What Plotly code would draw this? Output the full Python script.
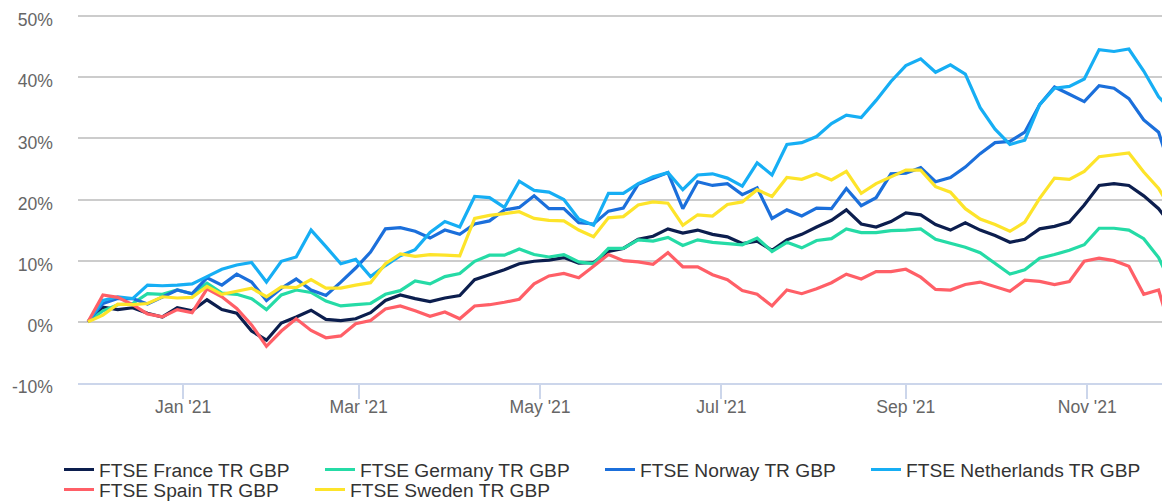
import pandas as pd
import plotly.graph_objects as go

# x positions: every 5 days from 30 Nov 2020, plus last observation
dates = list(pd.date_range("2020-11-30", periods=73, freq="5D").strftime("%Y-%m-%d")) + ["2021-11-28"]

france = [0, 2.4, 2.0, 2.3, 1.4, 0.8, 2.3, 1.8, 3.6, 2.0, 1.4, -1.5, -3.0, -0.2, 0.8, 1.9, 0.4, 0.2, 0.5, 1.5,
          3.5, 4.4, 3.8, 3.3, 3.9, 4.3, 6.9, 7.7, 8.5, 9.5, 9.9, 10.1, 10.5, 9.6, 9.7, 11.5, 12.0, 13.5, 14.0, 15.2,
          14.5, 15.0, 14.3, 13.9, 12.8, 13.2, 11.7, 13.4, 14.3, 15.5, 16.6, 18.3, 16.0, 15.5, 16.4, 17.8, 17.5,
          15.9, 15.0, 16.2, 15.0, 14.1, 13.0, 13.5, 15.2, 15.6, 16.3, 19.1, 22.3, 22.6, 22.3, 20.6, 18.5,
          16.6]
germany = [0, 1.8, 2.8, 3.0, 4.6, 4.5, 5.2, 4.6, 6.3, 4.7, 4.5, 3.8, 2.0, 4.4, 5.2, 4.8, 3.4, 2.6, 2.8, 3.0,
           4.5, 5.1, 6.7, 6.2, 7.4, 7.9, 9.9, 10.9, 10.9, 11.9, 11.0, 10.6, 11.0, 9.8, 9.5, 12.0, 12.0, 13.4, 13.2, 13.8,
           12.5, 13.4, 13.0, 12.8, 12.6, 13.7, 11.5, 13.0, 12.1, 13.3, 13.6, 15.2, 14.6, 14.6, 14.9, 15.0, 15.2,
           13.5, 12.8, 12.2, 11.3, 9.5, 7.8, 8.5, 10.4, 11.0, 11.7, 12.6, 15.3, 15.3, 15.0, 13.6, 10.5,
           7.4]
norway = [0, 3.0, 3.8, 3.8, 2.9, 4.0, 5.2, 4.6, 7.2, 6.0, 7.8, 6.5, 3.5, 5.5, 7.0, 5.2, 4.3, 6.5, 8.8, 11.4,
          15.2, 15.4, 14.8, 13.7, 15.0, 14.3, 16.0, 16.5, 18.3, 18.7, 20.6, 18.5, 18.5, 16.2, 16.0, 18.1, 18.6, 22.5, 23.5, 24.4,
          18.5, 22.9, 22.3, 22.6, 20.8, 21.9, 16.9, 18.3, 17.3, 18.6, 18.5, 21.8, 19.0, 20.3, 24.2, 24.3, 25.2,
          22.9, 23.6, 25.3, 27.5, 29.3, 29.5, 31.0, 35.5, 38.4, 37.2, 36.0, 38.6, 38.2, 36.5, 33.0, 31.0,
          26.5]
netherlands = [0, 3.5, 4.1, 3.8, 6.0, 5.9, 6.0, 6.2, 7.4, 8.6, 9.3, 9.7, 6.5, 9.9, 10.6, 15.0, 12.3, 9.5, 10.2, 7.4,
               9.2, 10.8, 11.8, 14.6, 16.4, 15.5, 20.5, 20.3, 18.7, 23.0, 21.5, 21.2, 20.0, 16.8, 15.8, 21.0, 21.0, 22.6, 23.7, 24.4,
               21.6, 24.0, 24.2, 23.5, 22.2, 26.0, 24.0, 29.0, 29.3, 30.3, 32.4, 33.8, 33.4, 36.2, 39.3, 41.9, 43.0,
               40.8, 42.0, 40.5, 35.0, 31.5, 29.0, 29.7, 35.5, 38.2, 38.5, 39.7, 44.5, 44.2, 44.6, 41.0, 36.8,
               35.2]
spain = [0, 4.4, 4.0, 2.8, 1.3, 0.8, 2.0, 1.5, 5.4, 4.1, 2.2, -0.5, -4.0, -1.5, 0.5, -1.4, -2.6, -2.3, -0.3, 0.2,
         2.1, 2.6, 1.8, 0.9, 1.6, 0.5, 2.6, 2.8, 3.2, 3.7, 6.2, 7.5, 7.9, 7.2, 9.1, 11.0, 10.0, 9.8, 9.4, 11.3,
         9.0, 9.0, 7.7, 6.9, 5.1, 4.5, 2.6, 5.2, 4.6, 5.4, 6.4, 7.8, 7.0, 8.2, 8.2, 8.6, 7.3,
         5.3, 5.2, 6.1, 6.5, 5.8, 5.0, 6.8, 6.6, 6.1, 6.6, 9.9, 10.4, 10.0, 9.1, 4.5, 5.2,
         0.3]
sweden = [0, 1.1, 2.9, 2.8, 3.0, 4.1, 3.9, 4.0, 5.8, 4.5, 5.0, 5.5, 4.1, 5.7, 5.6, 6.9, 5.5, 5.5, 6.0, 6.4,
          9.5, 11.1, 10.7, 11.0, 10.9, 10.8, 16.9, 17.4, 17.7, 18.0, 16.9, 16.6, 16.5, 15.0, 13.9, 17.0, 17.2, 19.1, 19.6, 19.4,
          15.8, 17.5, 17.3, 19.2, 19.6, 21.6, 20.5, 23.6, 23.3, 24.2, 23.2, 24.6, 21.0, 22.6, 23.7, 24.8, 24.8,
          22.1, 21.2, 18.5, 16.8, 15.9, 14.8, 16.3, 20.2, 23.5, 23.3, 24.6, 27.0, 27.3, 27.6, 24.5, 21.8,
          19.4]

series_names = ["FTSE France TR GBP", "FTSE Germany TR GBP", "FTSE Norway TR GBP",
                "FTSE Netherlands TR GBP", "FTSE Spain TR GBP", "FTSE Sweden TR GBP"]
series_values = [france, germany, norway, netherlands, spain, sweden]
colors = ["#0c1e4e", "#25dba6", "#1b6fdb", "#16aef4", "#ff5f67", "#fde42a"]

tick_dates = ["2021-01-01", "2021-03-01", "2021-05-01", "2021-07-01", "2021-09-01", "2021-11-01"]
tick_labels = ["Jan '21", "Mar '21", "May '21", "Jul '21", "Sep '21", "Nov '21"]
y_ticks = [-10, 0, 10, 20, 30, 40, 50]
y_labels = [f"{v}%" for v in y_ticks]

FONT = "Liberation Sans, Arial, sans-serif"
# the page body adds an 8 px offset, so the figure is 8 px smaller
OFF = 8
W, H = 1170 - OFF, 501 - OFF
ML, MR, MT, MB = 78 - OFF, 0, 14 - OFF, 118
PW = W - ML - MR
PH = H - MT - MB
Y_TOP = 50 + 2 * 60 / (PH - 2)   # 2 px head-room so the 50% grid line is kept

def px_x(x):
    return (x - OFF - ML) / PW

def px_y(y):
    return (H - MB - (y - OFF)) / PH

# legend item origins and row centres, in window pixels
legend_pos = [(59, 469.5), (320, 469.5), (600, 469.5), (866, 469.5), (59, 489.5), (310, 489.5)]

fig = go.Figure()
for i, (name, vals, col) in enumerate(zip(series_names, series_values, colors)):
    fig.add_trace(go.Scatter(
        x=dates, y=vals, name=name, mode="lines",
        line=dict(color=col, width=3.2),
        legend="legend" if i == 0 else f"legend{i+1}",
    ))

layout = dict(
    width=W, height=H,
    margin=dict(l=ML, r=MR, t=MT, b=MB, pad=0, autoexpand=False),
    paper_bgcolor="white", plot_bgcolor="white",
    font=dict(family=FONT, color="#666666"),
    showlegend=True,
    xaxis=dict(
        range=["2020-11-26 15:00", "2021-11-28 20:00"],
        tickvals=tick_dates, ticktext=tick_labels,
        ticks="outside", ticklen=14, tickwidth=1.5, tickcolor="#ccd6eb",
        showline=True, linecolor="#ccd6eb", linewidth=1.5,
        showgrid=False, zeroline=False, automargin=False,
        ticklabelstandoff=-7, ticklabeloverflow="allow",
        tickfont=dict(size=17.6, color="#666666", family=FONT),
    ),
    yaxis=dict(
        range=[-10, Y_TOP],
        tickvals=y_ticks, ticktext=y_labels,
        showgrid=True, gridcolor="#cccccc", gridwidth=1.6,
        zeroline=False, showline=False, automargin=False,
        ticks="", ticklabelstandoff=24, ticklabelshift=4, ticklabeloverflow="allow",
        tickfont=dict(size=17.6, color="#666666", family=FONT),
    ),
)
for i, (ox, oy) in enumerate(legend_pos):
    key = "legend" if i == 0 else f"legend{i+1}"
    layout[key] = dict(
        x=px_x(ox), y=px_y(oy), xanchor="left", yanchor="middle",
        orientation="v", bgcolor="rgba(0,0,0,0)", borderwidth=0,
        font=dict(size=19.2, color="#333333", family=FONT),
        itemwidth=30,
    )
fig.update_layout(**layout)

fig.write_html("out.html")
